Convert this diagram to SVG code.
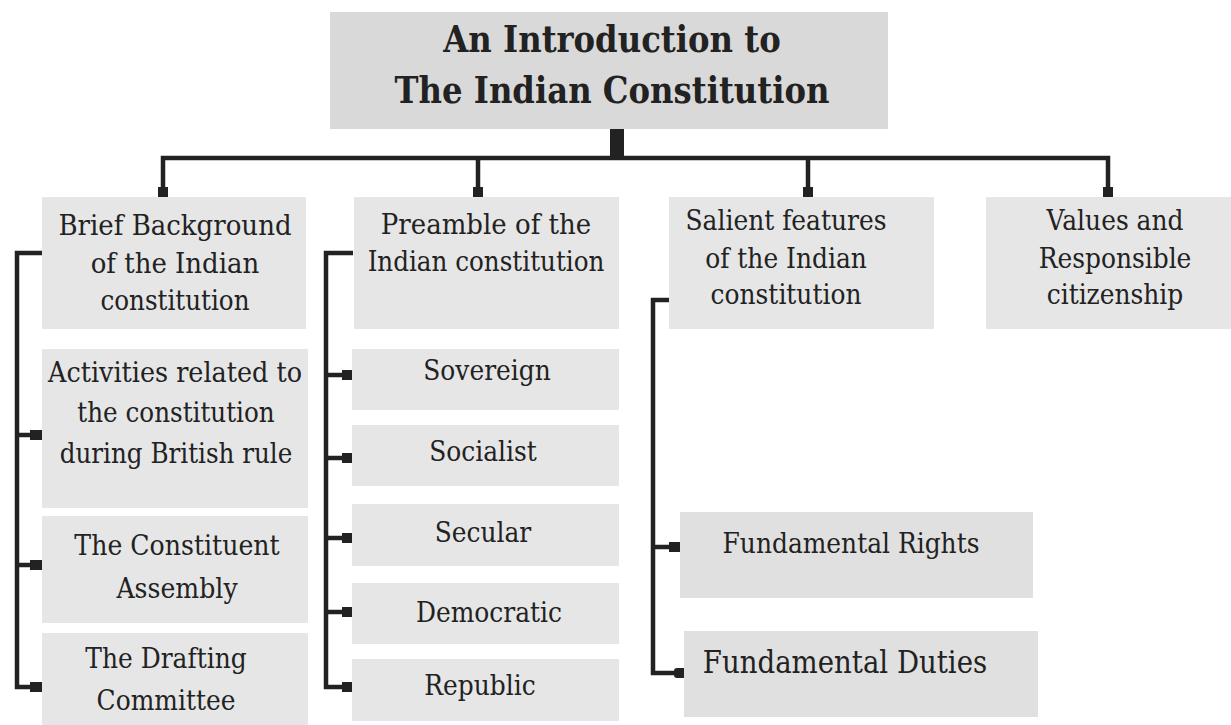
<svg xmlns="http://www.w3.org/2000/svg" width="1231" height="725" viewBox="0 0 1231 725">
<style>
.box{fill:#e6e6e6}
.title{fill:#d9d9d9}
.fund{fill:#e0e0e0}
text{fill:#222;text-anchor:middle;font-family:"DejaVu Serif","Liberation Serif",serif}
.t{font-size:38px;font-weight:bold}
.b{font-size:28px}
.ln{fill:none;stroke:#222;stroke-width:4.5}
.sq{fill:#222}
</style>
<rect width="1231" height="725" fill="#fff"/>
<g id="connectors">
<rect class="sq" x="610" y="125" width="14" height="33"/>
<path class="ln" d="M163 190 V158 H1108 V190 M478 158 V190 M808 158 V190"/>
<rect class="sq" x="158" y="187" width="10" height="10"/>
<rect class="sq" x="473" y="187" width="10" height="10"/>
<rect class="sq" x="803" y="187" width="10" height="10"/>
<rect class="sq" x="1103" y="187" width="10" height="10"/>
<path class="ln" d="M42 253 H17 V687 H32 M17 435 H32 M17 565 H32"/>
<rect class="sq" x="30" y="430" width="12" height="10"/>
<rect class="sq" x="30" y="560" width="12" height="10"/>
<rect class="sq" x="30" y="682" width="12" height="10"/>
<path class="ln" d="M353 253 H326 V687 H344 M326 375 H344 M326 458 H344 M326 538 H344 M326 612 H344"/>
<rect class="sq" x="342" y="370" width="11" height="10"/>
<rect class="sq" x="342" y="453" width="11" height="10"/>
<rect class="sq" x="342" y="533" width="11" height="10"/>
<rect class="sq" x="342" y="607" width="11" height="10"/>
<rect class="sq" x="342" y="682" width="11" height="10"/>
<path class="ln" d="M670 300 H653 V673 H675 M653 547 H671"/>
<rect class="sq" x="669" y="542" width="12" height="10"/>
<rect class="sq" x="674" y="668" width="13" height="10" rx="3"/>
</g>
<g id="n-title">
<rect class="title" x="330" y="12" width="558" height="117"/>
<text class="t" transform="translate(612 52) scale(.85 1)">An Introduction to</text>
<text class="t" transform="translate(612 103) scale(.85 1)">The Indian Constitution</text>
</g>
<g id="n-background">
<rect class="box" x="42" y="197" width="264" height="132"/>
<text class="b" transform="translate(175 235) scale(.93 1)">Brief Background</text>
<text class="b" transform="translate(175 273) scale(.93 1)">of the Indian</text>
<text class="b" transform="translate(175 310) scale(.88 1)">constitution</text>
</g>
<g id="n-activities">
<rect class="box" x="42" y="349" width="266" height="159"/>
<text class="b" transform="translate(175 382) scale(.91 1)">Activities related to</text>
<text class="b" transform="translate(176 422) scale(.88 1)">the constitution</text>
<text class="b" transform="translate(176 463) scale(.88 1)">during British rule</text>
</g>
<g id="n-constituent">
<rect class="box" x="42" y="516" width="266" height="107"/>
<text class="b" transform="translate(177 555) scale(.9 1)">The Constituent</text>
<text class="b" transform="translate(177 598) scale(.9 1)">Assembly</text>
</g>
<g id="n-drafting">
<rect class="box" x="42" y="633" width="266" height="92"/>
<text class="b" transform="translate(166 668) scale(.89 1)">The Drafting</text>
<text class="b" transform="translate(166 710) scale(.89 1)">Committee</text>
</g>
<g id="n-preamble">
<rect class="box" x="354" y="197" width="265" height="132"/>
<text class="b" transform="translate(486 234) scale(.93 1)">Preamble of the</text>
<text class="b" transform="translate(486 271) scale(.88 1)">Indian constitution</text>
</g>
<g id="n-sovereign">
<rect class="box" x="352" y="349" width="267" height="61"/>
<text class="b" transform="translate(487 380) scale(.89 1)">Sovereign</text>
</g>
<g id="n-socialist">
<rect class="box" x="352" y="425" width="267" height="61"/>
<text class="b" transform="translate(483 461) scale(.89 1)">Socialist</text>
</g>
<g id="n-secular">
<rect class="box" x="352" y="504" width="267" height="62"/>
<text class="b" transform="translate(483 542) scale(.89 1)">Secular</text>
</g>
<g id="n-democratic">
<rect class="box" x="352" y="583" width="267" height="61"/>
<text class="b" transform="translate(489 622) scale(.89 1)">Democratic</text>
</g>
<g id="n-republic">
<rect class="box" x="352" y="659" width="267" height="62"/>
<text class="b" transform="translate(480 695) scale(.89 1)">Republic</text>
</g>
<g id="n-salient">
<rect class="box" x="669" y="197" width="265" height="132"/>
<text class="b" transform="translate(786 230) scale(.89 1)">Salient features</text>
<text class="b" transform="translate(786 268) scale(.89 1)">of the Indian</text>
<text class="b" transform="translate(786 304) scale(.89 1)">constitution</text>
</g>
<g id="n-values">
<rect class="box" x="986" y="197" width="245" height="132"/>
<text class="b" transform="translate(1115 230) scale(.89 1)">Values and</text>
<text class="b" transform="translate(1115 268) scale(.89 1)">Responsible</text>
<text class="b" transform="translate(1115 304) scale(.89 1)">citizenship</text>
</g>
<g id="n-rights">
<rect class="fund" x="680" y="512" width="353" height="86"/>
<text class="b" transform="translate(851 553) scale(.89 1)">Fundamental Rights</text>
</g>
<g id="n-duties">
<rect class="fund" x="684" y="631" width="354" height="86"/>
<text class="b" transform="translate(845 673) scale(.89 1)" style="font-size:31px">Fundamental Duties</text>
</g>
</svg>
